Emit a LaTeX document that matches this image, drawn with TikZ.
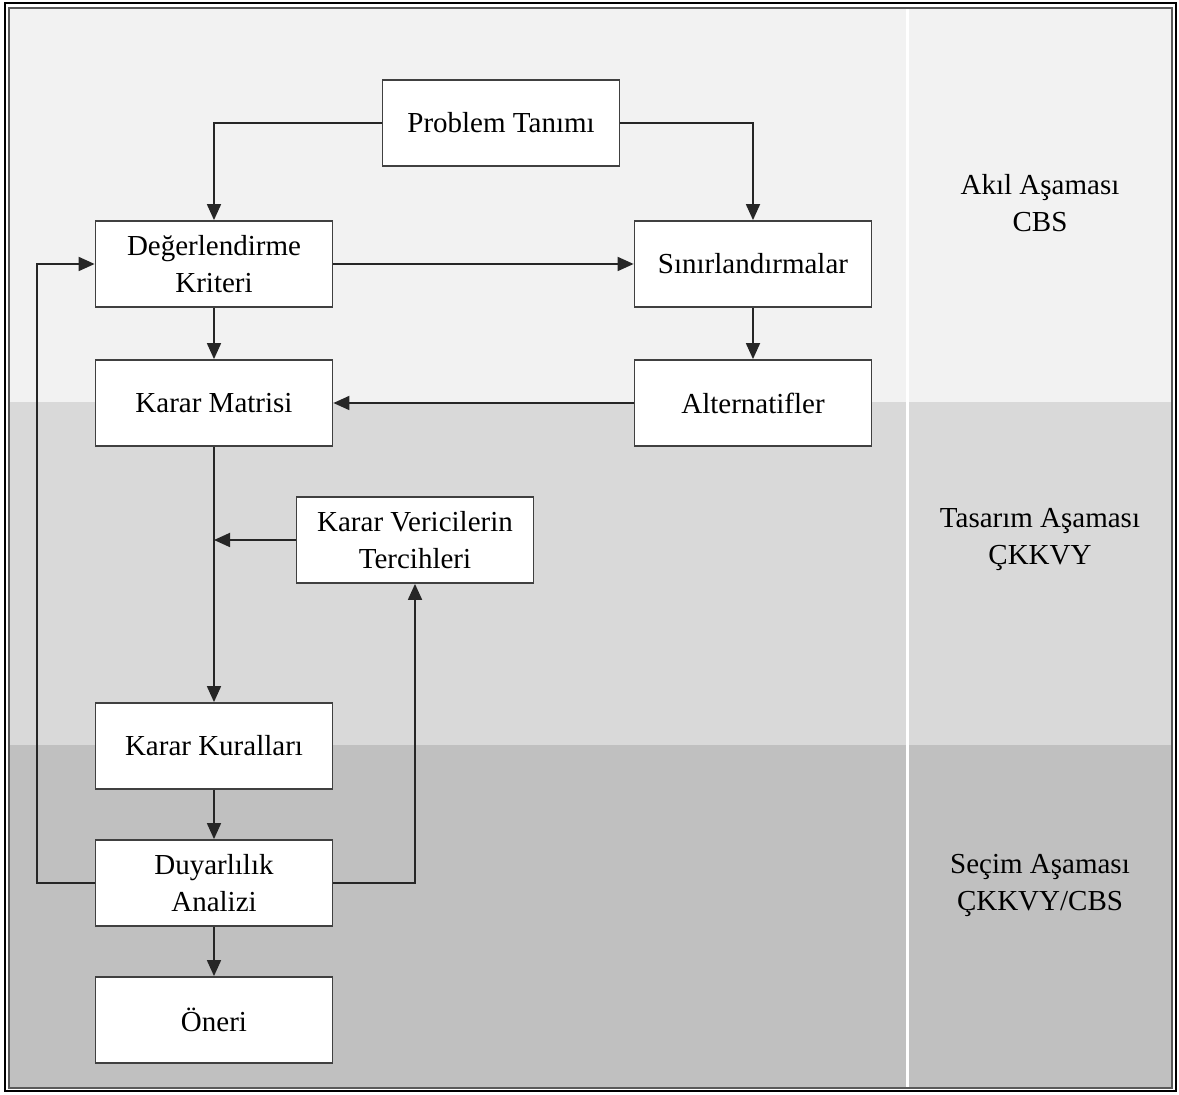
\documentclass[tikz,border=0pt]{standalone}
\usepackage{fontspec}
\setmainfont{Liberation Serif}
\usetikzlibrary{positioning,arrows.meta}
\definecolor{bandA}{HTML}{F2F2F2}
\definecolor{bandB}{HTML}{D9D9D9}
\definecolor{bandC}{HTML}{C0C0C0}
\begin{document}
\begin{tikzpicture}[
	x = 0.5pt, y = -0.5pt, % one unit per pixel
	> = {Triangle[length=8pt,width=7pt]}, % arrow head style
	node distance = 68.5pt, % distance between nodes
	font=\fontsize{14.5}{18.5}\selectfont
	]
	
	\tikzset{
	stepbox/.style={
		draw = black!75,
		line width = 0.9pt,
		fill = white,
		align = center,
		minimum width = 118.5pt,
		minimum height = 43pt,
		inner sep = 2pt
		},
	link/.style={->, line width=0.9pt, black!85},
	phase/.style={align=center}
	}
	
	\useasboundingbox (0,0) rectangle (1179,1095);
	
	% background bands
	\fill[bandA] (9,8) rectangle (1172,402);
	\fill[bandB] (9,402) rectangle (1172,745);
	\fill[bandC] (9,745) rectangle (1172,1088);
	\draw[white, line width=1.5pt] (907,8) -- (907,1088);
	\draw[black!65, line width=0.8pt] (9,8) rectangle (1172,1088);
	\draw[black, line width=0.9pt] (5,3) rectangle (1176,1091);
	
	\node[stepbox] (qDK) at (214,264) {Değerlendirme\\Kriteri};
	\node[stepbox] (qPT) [above of=qDK, xshift=143.5pt, yshift=2pt] {Problem Tanımı};
	\node[stepbox] (qSN) [right of=qDK, node distance=269.5pt] {Sınırlandırmalar};
	\node[stepbox] (qKM) [below of=qDK, yshift=-1pt] {Karar Matrisi};
	\node[stepbox] (qAL) [below of=qSN, yshift=-1pt] {Alternatifler};
	\node[stepbox] (qKV) [below of=qKM, xshift=100.5pt] {Karar Vericilerin\\Tercihleri};
	\node[stepbox] (qKK) [below of=qKM, node distance=171.5pt] {Karar Kuralları};
	\node[stepbox] (qDA) [below of=qKK] {Duyarlılık\\Analizi};
	\node[stepbox] (qON) [below of=qDA] {Öneri};
	
	\node[phase] (lA) at (1040,203) {Akıl Aşaması\\CBS};
	\node[phase] (lT) at (1040,540) {Tasarım Aşaması\\ÇKKVY};
	\node[phase] (lS) at (1040,885) {Seçim Aşaması\\ÇKKVY/CBS};
	
	\draw[link] (qPT.west) -| (qDK.north);
	\draw[link] (qPT.east) -| (qSN.north);
	\draw[link] (qDK) -- (qSN);
	\draw[link] (qDK) -- (qKM);
	\draw[link] (qSN) -- (qAL);
	\draw[link] (qAL) -- (qKM);
	\draw[link] (qKM) -- (qKK);
	\draw[link] (qKV.west) -- (qKV.west -| qKM);
	\draw[link] (qKK) -- (qDA);
	\draw[link] (qDA) -- (qON);
	
	% feedback loops
	\draw[link] (qDA.west) -- ++(-29pt,0) |- (qDK.west);
	\draw[link] (qDA.east) -| (qKV.south);
	
\end{tikzpicture}
\end{document}
